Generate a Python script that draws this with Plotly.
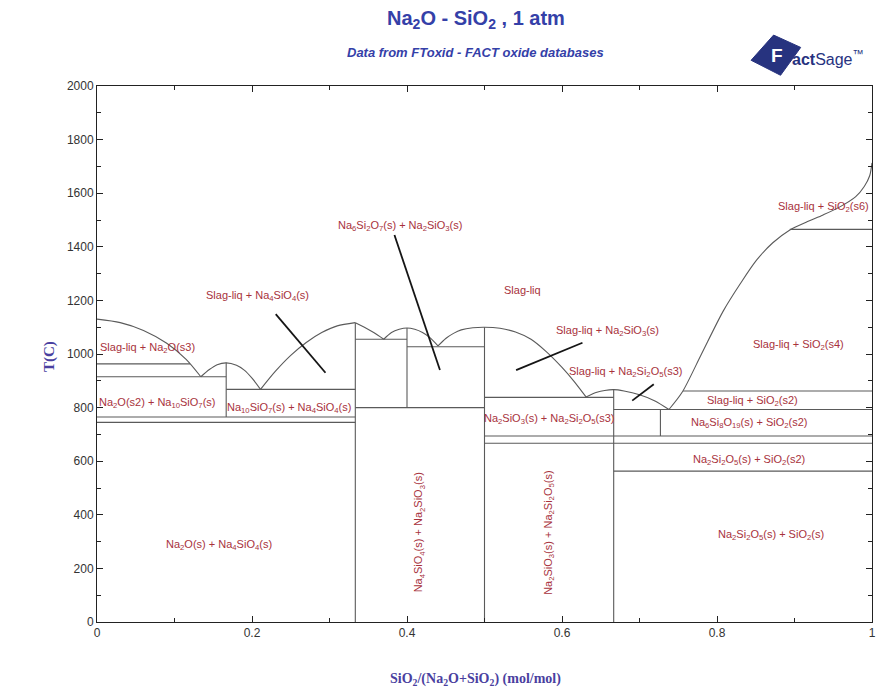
import plotly.graph_objects as go

# ---------------- data ----------------
# liquidus arcs (x = SiO2 mole fraction, T in C)
arc_x = [
    [0, 0.03, 0.06, 0.09, 0.115, 0.134],
    [0.134, 0.145, 0.155, 0.1667, 0.18, 0.19, 0.2, 0.211],
    [0.211, 0.23, 0.25, 0.27, 0.29, 0.31, 0.3333],
    [0.3333, 0.345, 0.357, 0.37],
    [0.37, 0.38, 0.39, 0.4, 0.41, 0.42, 0.43, 0.44],
    [0.44, 0.45, 0.46, 0.47, 0.485, 0.5, 0.52, 0.54, 0.56, 0.58, 0.6, 0.615, 0.631],
    [0.631, 0.645, 0.655, 0.6667, 0.68, 0.7, 0.72, 0.738],
    [0.738, 0.755, 0.78, 0.808, 0.83, 0.851, 0.872, 0.894, 0.915, 0.937, 0.958, 0.979, 0.99, 0.997, 1.0],
]
arc_T = [
    [1130, 1117, 1088, 1040, 980, 915],
    [915, 942, 960, 967, 958, 940, 910, 868],
    [868, 935, 995, 1043, 1080, 1105, 1117],
    [1117, 1100, 1080, 1055],
    [1055, 1080, 1092, 1097, 1092, 1080, 1060, 1030],
    [1030, 1058, 1077, 1090, 1098, 1100, 1096, 1082, 1055, 1008, 950, 900, 840],
    [840, 857, 864, 867, 862, 848, 825, 793],
    [793, 857, 1000, 1160, 1262, 1350, 1415, 1463, 1492, 1519, 1548, 1587, 1625, 1665, 1713],
]

# horizontal invariant lines: (x_start, x_end, T)
h_x0 = [0, 0, 0.1667, 0, 0, 0.3333, 0.4, 0.3333, 0.5, 0.756, 0.6667, 0.5, 0.5, 0.6667, 0.894]
h_x1 = [0.12, 0.1667, 0.3333, 0.3333, 0.3333, 0.4, 0.5, 0.5, 0.6667, 1, 1, 1, 1, 1, 1]
h_T = [963, 915, 868, 765, 745, 1055, 1027, 800, 838, 862, 793, 694, 667, 563, 1465]

# vertical compound lines: (x, T_low, T_high)
v_x = [0.1667, 0.3333, 0.4, 0.5, 0.6667, 0.727]
v_T0 = [765, 0, 800, 0, 0, 694]
v_T1 = [967, 1117, 1097, 1100, 867, 793]

# pointer lines
p_x0 = [0.2306, 0.3838, 0.6264, 0.7184]
p_T0 = [1149, 1444, 1042, 887]
p_x1 = [0.2948, 0.4425, 0.5408, 0.6906]
p_T1 = [930, 940, 940, 826]

# region labels
lab_text = [
    "Slag-liq + Na<sub>2</sub>O(s3)",
    "Na<sub>2</sub>O(s2) + Na<sub>10</sub>SiO<sub>7</sub>(s)",
    "Na<sub>10</sub>SiO<sub>7</sub>(s) + Na<sub>4</sub>SiO<sub>4</sub>(s)",
    "Slag-liq + Na<sub>4</sub>SiO<sub>4</sub>(s)",
    "Na<sub>6</sub>Si<sub>2</sub>O<sub>7</sub>(s) + Na<sub>2</sub>SiO<sub>3</sub>(s)",
    "Slag-liq",
    "Slag-liq + Na<sub>2</sub>SiO<sub>3</sub>(s)",
    "Slag-liq + Na<sub>2</sub>Si<sub>2</sub>O<sub>5</sub>(s3)",
    "Na<sub>2</sub>SiO<sub>3</sub>(s) + Na<sub>2</sub>Si<sub>2</sub>O<sub>5</sub>(s3)",
    "Slag-liq + SiO<sub>2</sub>(s6)",
    "Slag-liq + SiO<sub>2</sub>(s4)",
    "Slag-liq + SiO<sub>2</sub>(s2)",
    "Na<sub>6</sub>Si<sub>8</sub>O<sub>19</sub>(s) + SiO<sub>2</sub>(s2)",
    "Na<sub>2</sub>Si<sub>2</sub>O<sub>5</sub>(s) + SiO<sub>2</sub>(s2)",
    "Na<sub>2</sub>Si<sub>2</sub>O<sub>5</sub>(s) + SiO<sub>2</sub>(s)",
    "Na<sub>2</sub>O(s) + Na<sub>4</sub>SiO<sub>4</sub>(s)",
    "Na<sub>4</sub>SiO<sub>4</sub>(s) + Na<sub>2</sub>SiO<sub>3</sub>(s)",
    "Na<sub>2</sub>SiO<sub>3</sub>(s) + Na<sub>2</sub>Si<sub>2</sub>O<sub>5</sub>(s)",
]
lab_x = [0.065, 0.078, 0.248, 0.207, 0.3915, 0.549, 0.6585, 0.682, 0.584, 0.938, 0.905, 0.846, 0.841, 0.841, 0.870, 0.158, 0.416, 0.583]
lab_T = [1022, 817, 799, 1216, 1478, 1239, 1086, 933, 757, 1549, 1034, 825, 743, 604, 325, 287, 336, 332]
lab_angle = [0] * 16 + [-90, -90]

x_ticks = [0, 0.2, 0.4, 0.6, 0.8, 1]
y_ticks = [0, 200, 400, 600, 800, 1000, 1200, 1400, 1600, 1800, 2000]

# ---------------- figure ----------------
LINE_COL = "#5a5a5a"
TXT_COL = "#a8323c"
BLUE = "#3440a8"
NAVY = "#27337f"

fig = go.Figure()

for xs, ts in zip(arc_x, arc_T):
    fig.add_trace(go.Scatter(x=xs, y=ts, mode="lines", line=dict(color=LINE_COL, width=1.1, shape="spline", smoothing=0.8),
                             hoverinfo="skip", showlegend=False))

for x0, x1, t in zip(h_x0, h_x1, h_T):
    fig.add_trace(go.Scatter(x=[x0, x1], y=[t, t], mode="lines", line=dict(color=LINE_COL, width=1.1),
                             hoverinfo="skip", showlegend=False))

for x, t0, t1 in zip(v_x, v_T0, v_T1):
    fig.add_trace(go.Scatter(x=[x, x], y=[t0, t1], mode="lines", line=dict(color=LINE_COL, width=1.1),
                             hoverinfo="skip", showlegend=False))

for x0, t0, x1, t1 in zip(p_x0, p_T0, p_x1, p_T1):
    fig.add_trace(go.Scatter(x=[x0, x1], y=[t0, t1], mode="lines", line=dict(color="#151515", width=1.8),
                             hoverinfo="skip", showlegend=False))

for txt, x, t, ang in zip(lab_text, lab_x, lab_T, lab_angle):
    fig.add_annotation(x=x, y=t, xref="x", yref="y", text=txt, showarrow=False, textangle=ang,
                       xanchor="center", yanchor="middle",
                       font=dict(family="Liberation Sans, Arial", size=11, color=TXT_COL))

# titles
fig.add_annotation(x=0.489, y=1.125, xref="paper", yref="paper", showarrow=False,
                   xanchor="center", yanchor="middle",
                   text="<b>Na<sub>2</sub>O - SiO<sub>2</sub> , 1 atm</b>",
                   font=dict(family="Liberation Sans, Arial", size=20, color=BLUE))
fig.add_annotation(x=0.489, y=1.063, xref="paper", yref="paper", showarrow=False,
                   xanchor="center", yanchor="middle",
                   text="<b><i>Data from FToxid - FACT oxide databases</i></b>",
                   font=dict(family="Liberation Sans, Arial", size=13, color=BLUE))
fig.add_annotation(x=-0.062, y=0.496, xref="paper", yref="paper", showarrow=False, textangle=-90,
                   xanchor="center", yanchor="middle",
                   text="<b>T(C)</b>", font=dict(family="Liberation Serif, Times New Roman", size=15, color="#4a3fa0"))
fig.add_annotation(x=0.489, y=-0.108, xref="paper", yref="paper", showarrow=False,
                   xanchor="center", yanchor="middle",
                   text="<b>SiO<sub>2</sub>/(Na<sub>2</sub>O+SiO<sub>2</sub>) (mol/mol)</b>",
                   font=dict(family="Liberation Serif, Times New Roman", size=14, color="#4a3fa0"))

# FactSage logo
fig.add_shape(type="path", xref="paper", yref="paper",
              path="M 0.844 1.048 L 0.873 1.095 L 0.908 1.072 L 0.882 1.020 Z",
              fillcolor=NAVY, line=dict(color=NAVY, width=1))
fig.add_annotation(x=0.877, y=1.056, xref="paper", yref="paper", showarrow=False,
                   xanchor="center", yanchor="middle",
                   text="<b>F</b>", font=dict(family="Liberation Sans, Arial", size=19, color="white"))
fig.add_annotation(x=0.894, y=1.052, xref="paper", yref="paper", showarrow=False,
                   xanchor="left", yanchor="middle",
                   text="<b>act</b>Sage<sup>™</sup>",
                   font=dict(family="Liberation Sans, Arial", size=16, color=NAVY))

axis_common = dict(showgrid=False, zeroline=False, showline=True, linecolor="#222", linewidth=1,
                   mirror="ticks", ticks="inside", ticklen=6, tickcolor="#222",
                   tickfont=dict(family="Liberation Sans, Arial", size=12, color="#333"))

fig.update_xaxes(range=[0, 1], tickvals=x_ticks, ticktext=["0", "0.2", "0.4", "0.6", "0.8", "1"],
                 minor=dict(dtick=0.1, ticks="inside", ticklen=4, tickcolor="#222"), **axis_common)
fig.update_yaxes(range=[0, 2000], tickvals=y_ticks,
                 minor=dict(dtick=100, ticks="inside", ticklen=4, tickcolor="#222"), **axis_common)

fig.update_layout(width=876, height=683, margin=dict(l=89, r=8, t=78, b=69),
                  plot_bgcolor="white", paper_bgcolor="white", showlegend=False)

fig.write_html("out.html", config={"displayModeBar": False})
